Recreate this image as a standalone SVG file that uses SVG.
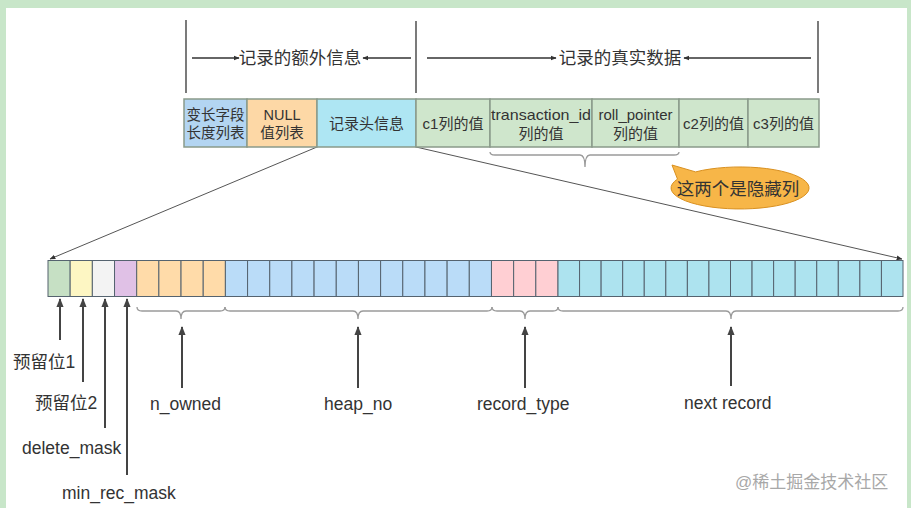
<svg xmlns="http://www.w3.org/2000/svg" width="911" height="508" viewBox="0 0 911 508">
<defs>
<style>
text{font-family:"Liberation Sans","Noto Sans CJK SC",sans-serif;fill:#333}
.t{font-size:15px;text-anchor:middle}
.s{font-size:14.5px;text-anchor:middle}
.lbl{font-size:17.5px}
.box{stroke:#8a9a8a;stroke-width:1.5}
.cell{stroke:#55636f;stroke-width:1}
.brace{fill:none;stroke:#9a9a9a;stroke-width:1.3}
.ln{stroke:#333;stroke-width:1.3;fill:none}
.thin{stroke:#555;stroke-width:1;fill:none}
.g{fill:#c6e0c4}.y{fill:#fdf6c3}.w{fill:#f3f3f3}.p{fill:#e0c1e6}.o{fill:#ffdba9}.b{fill:#badcf8}.k{fill:#ffcfd3}.c{fill:#ade3ef}
</style>
<marker id="ah" viewBox="0 0 10 10" refX="9" refY="5" markerWidth="6" markerHeight="6" orient="auto-start-reverse" markerUnits="userSpaceOnUse"><path d="M0,1 L10,5 L0,9 z" fill="#333"/></marker>
<marker id="au" viewBox="0 0 10 10" refX="9" refY="5" markerWidth="9" markerHeight="9" orient="auto" markerUnits="userSpaceOnUse"><path d="M0,1 L10,5 L0,9 z" fill="#444"/></marker>
</defs>
<rect x="0" y="0" width="911" height="508" fill="#c8e6c9"/>
<rect x="6" y="8" width="901" height="500" fill="#ffffff"/>

<g id="connectors">
<line class="ln" x1="186" y1="20" x2="186" y2="93"/>
<line class="ln" x1="416" y1="21" x2="416" y2="93"/>
<line class="ln" x1="818" y1="21" x2="818" y2="93"/>
<line class="ln" x1="192" y1="58" x2="239" y2="58" marker-end="url(#ah)"/>
<line class="ln" x1="411" y1="58" x2="363" y2="58" marker-end="url(#ah)"/>
<line class="ln" x1="427" y1="58" x2="556" y2="58" marker-end="url(#ah)"/>
<line class="ln" x1="811" y1="58" x2="684" y2="58" marker-end="url(#ah)"/>
<line class="thin" x1="317" y1="147" x2="50" y2="259" marker-end="url(#ah)"/>
<line class="thin" x1="416" y1="147" x2="902" y2="259" marker-end="url(#ah)"/>
<path class="brace" d="M490,152 Q490,155 495,155 L580,155 Q585,155 585,167 Q585,155 590,155 L674,155 Q679,155 679,152"/>
<path class="brace" d="M137,307 Q137,311 142,311 L176,311 Q181,311 181,319 Q181,311 186,311 L220,311 Q225,311 225,307"/>
<path class="brace" d="M225,307 Q225,311 230,311 L353,311 Q358,311 358,319 Q358,311 363,311 L487,311 Q492,311 492,307"/>
<path class="brace" d="M492,307 Q492,311 497,311 L520,311 Q525,311 525,319 Q525,311 530,311 L553,311 Q558,311 558,307"/>
<path class="brace" d="M558,307 Q558,311 563,311 L726,311 Q731,311 731,319 Q731,311 736,311 L898,311 Q903,311 903,307"/>
<g style="stroke:#444;stroke-width:2">
<line x1="60" y1="340" x2="60" y2="299" marker-end="url(#au)"/>
<line x1="83" y1="382" x2="83" y2="299" marker-end="url(#au)"/>
<line x1="105" y1="428" x2="105" y2="299" marker-end="url(#au)"/>
<line x1="127" y1="475" x2="127" y2="299" marker-end="url(#au)"/>
<line x1="182" y1="388" x2="182" y2="327" marker-end="url(#au)"/>
<line x1="358" y1="388" x2="358" y2="327" marker-end="url(#au)"/>
<line x1="525" y1="388" x2="525" y2="327" marker-end="url(#au)"/>
<line x1="731" y1="386" x2="731" y2="327" marker-end="url(#au)"/>
</g>
</g>

<g id="top-labels">
<text class="lbl" x="300" y="64" text-anchor="middle">记录的额外信息</text>
<text class="lbl" x="620" y="64" text-anchor="middle">记录的真实数据</text>
</g>

<g id="var-len">
<rect class="box" x="184" y="99" width="63" height="48" fill="#b3d5f2"/>
<text class="s" x="215.5" y="120">变长字段</text>
<text class="s" x="215.5" y="138">长度列表</text>
</g>
<g id="null-list">
<rect class="box" x="247" y="99" width="70" height="48" fill="#fdd8a6"/>
<text class="s" x="282" y="120">NULL</text>
<text class="s" x="282" y="138">值列表</text>
</g>
<g id="record-header">
<rect class="box" x="317" y="99" width="99" height="48" fill="#aee6f3"/>
<text class="t" x="366.5" y="129">记录头信息</text>
</g>
<g id="c1">
<rect class="box" x="416" y="99" width="74" height="48" fill="#cfe6cc"/>
<text class="t" x="453" y="129">c1列的值</text>
</g>
<g id="trx-id">
<rect class="box" x="490" y="99" width="102" height="48" fill="#cfe6cc"/>
<text class="t" x="541" y="120" textLength="100" lengthAdjust="spacingAndGlyphs">transaction_id</text>
<text class="t" x="541" y="139">列的值</text>
</g>
<g id="roll-ptr">
<rect class="box" x="592" y="99" width="87" height="48" fill="#cfe6cc"/>
<text class="t" x="635.5" y="120">roll_pointer</text>
<text class="t" x="635.5" y="139">列的值</text>
</g>
<g id="c2">
<rect class="box" x="679" y="99" width="69" height="48" fill="#cfe6cc"/>
<text class="t" x="713.5" y="129">c2列的值</text>
</g>
<g id="c3">
<rect class="box" x="748" y="99" width="71" height="48" fill="#cfe6cc"/>
<text class="t" x="783.5" y="129">c3列的值</text>
</g>

<g id="hidden-callout">
<path d="M672,165 L695.6,171.9 A69,21 0 1 1 677.5,179.1 Z" fill="#f7b648" stroke="#d9901f" stroke-width="1"/>
<text class="lbl" x="738" y="195" text-anchor="middle">这两个是隐藏列</text>
</g>

<g id="bits">
<g id="reserved1"><rect class="cell g" x="48" y="260.5" width="22.17" height="36"/></g>
<g id="reserved2"><rect class="cell y" x="70.17" y="260.5" width="22.17" height="36"/></g>
<g id="delete-mask"><rect class="cell w" x="92.35" y="260.5" width="22.17" height="36"/></g>
<g id="min-rec-mask"><rect class="cell p" x="114.52" y="260.5" width="22.17" height="36"/></g>
<g id="n-owned" class="cell o">
<rect x="136.70" y="260.5" width="22.17" height="36"/><rect x="158.87" y="260.5" width="22.17" height="36"/><rect x="181.04" y="260.5" width="22.17" height="36"/><rect x="203.22" y="260.5" width="22.17" height="36"/>
</g>
<g id="heap-no" class="cell b">
<rect x="225.39" y="260.5" width="22.17" height="36"/><rect x="247.57" y="260.5" width="22.17" height="36"/><rect x="269.74" y="260.5" width="22.17" height="36"/><rect x="291.91" y="260.5" width="22.17" height="36"/><rect x="314.09" y="260.5" width="22.17" height="36"/><rect x="336.26" y="260.5" width="22.17" height="36"/><rect x="358.43" y="260.5" width="22.17" height="36"/><rect x="380.61" y="260.5" width="22.17" height="36"/><rect x="402.78" y="260.5" width="22.17" height="36"/><rect x="424.96" y="260.5" width="22.17" height="36"/><rect x="447.13" y="260.5" width="22.17" height="36"/><rect x="469.30" y="260.5" width="22.17" height="36"/>
</g>
<g id="record-type" class="cell k">
<rect x="491.48" y="260.5" width="22.17" height="36"/><rect x="513.65" y="260.5" width="22.17" height="36"/><rect x="535.83" y="260.5" width="22.17" height="36"/>
</g>
<g id="next-record" class="cell c">
<rect x="558" y="260.5" width="21.56" height="36"/><rect x="579.56" y="260.5" width="21.56" height="36"/><rect x="601.13" y="260.5" width="21.56" height="36"/><rect x="622.69" y="260.5" width="21.56" height="36"/><rect x="644.25" y="260.5" width="21.56" height="36"/><rect x="665.81" y="260.5" width="21.56" height="36"/><rect x="687.38" y="260.5" width="21.56" height="36"/><rect x="708.94" y="260.5" width="21.56" height="36"/><rect x="730.5" y="260.5" width="21.56" height="36"/><rect x="752.06" y="260.5" width="21.56" height="36"/><rect x="773.63" y="260.5" width="21.56" height="36"/><rect x="795.19" y="260.5" width="21.56" height="36"/><rect x="816.75" y="260.5" width="21.56" height="36"/><rect x="838.31" y="260.5" width="21.56" height="36"/><rect x="859.88" y="260.5" width="21.56" height="36"/><rect x="881.44" y="260.5" width="21.56" height="36"/>
</g>
</g>

<g id="bit-labels">
<text class="lbl" x="13" y="368">预留位1</text>
<text class="lbl" x="35" y="409">预留位2</text>
<text class="lbl" x="22" y="454">delete_mask</text>
<text class="lbl" x="62" y="499">min_rec_mask</text>
<text class="lbl" x="150" y="410">n_owned</text>
<text class="lbl" x="324" y="410">heap_no</text>
<text class="lbl" x="477" y="410">record_type</text>
<text class="lbl" x="684" y="409">next record</text>
</g>

<g id="watermark">
<text x="735" y="488" style="font-size:17px;fill:#a8a8a8">@稀土掘金技术社区</text>
</g>
</svg>
